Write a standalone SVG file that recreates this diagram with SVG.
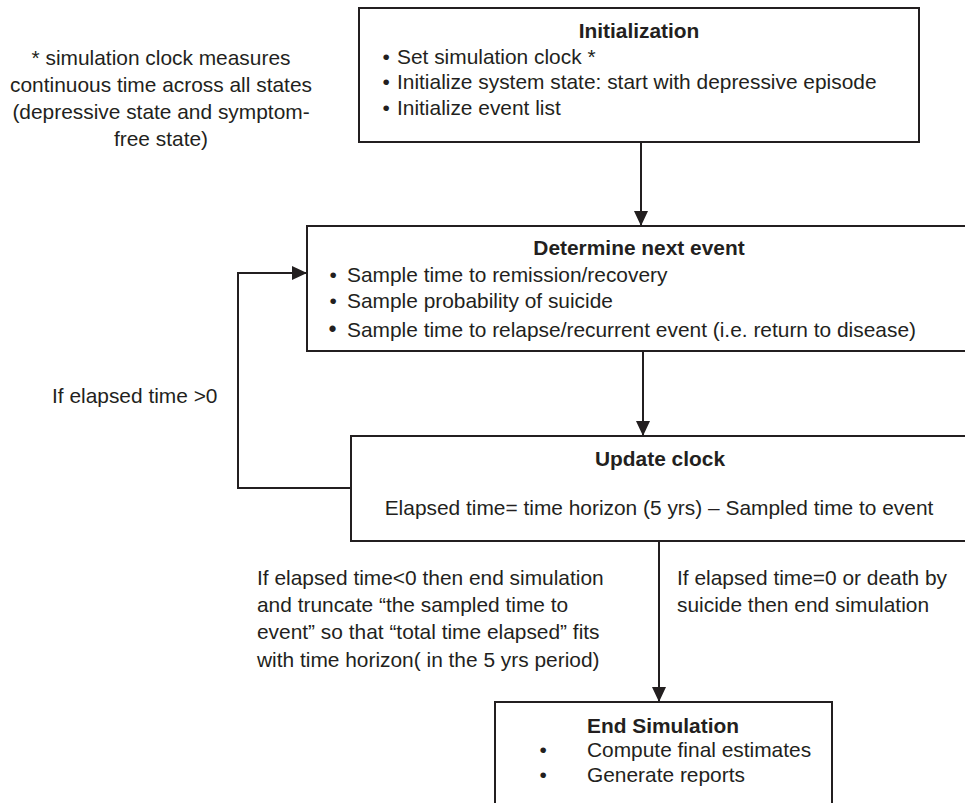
<svg xmlns="http://www.w3.org/2000/svg" width="965" height="803" viewBox="0 0 965 803">
<style>
text{font-family:"Liberation Sans",Arial,sans-serif;font-size:20.9px;fill:#231f20}
.t{font-weight:bold;text-anchor:middle}
.c{text-anchor:middle}
.box{fill:#fff;stroke:#231f20;stroke-width:2}
.ln{fill:none;stroke:#231f20;stroke-width:2}
</style>
<defs>
<marker id="ah" markerUnits="userSpaceOnUse" markerWidth="16" markerHeight="14" refX="15" refY="7" orient="auto">
<path d="M0,0 L15,7 L0,14 z" fill="#231f20"/>
</marker>
</defs>
<rect width="965" height="803" fill="#fff"/>
<g id="note">
<text class="c" x="161" y="65">* simulation clock measures</text>
<text class="c" x="161" y="92">continuous time across all states</text>
<text class="c" x="161" y="119">(depressive state and symptom-</text>
<text class="c" x="161" y="146">free state)</text>
</g>
<g id="connectors">
<line class="ln" x1="641" y1="142" x2="641" y2="226" marker-end="url(#ah)"/>
<line class="ln" x1="643" y1="351" x2="643" y2="436" marker-end="url(#ah)"/>
<line class="ln" x1="659" y1="541" x2="659" y2="702" marker-end="url(#ah)"/>
<polyline class="ln" points="351,488 238,488 238,273 307,273" marker-end="url(#ah)"/>
<text x="52" y="403">If elapsed time &gt;0</text>
<text x="257" y="585">If elapsed time&lt;0 then end simulation</text>
<text x="257" y="612">and truncate “the sampled time to</text>
<text x="257" y="639">event” so that “total time elapsed” fits</text>
<text x="257" y="667">with time horizon( in the 5 yrs period)</text>
<text x="677" y="585">If elapsed time=0 or death by</text>
<text x="677" y="612">suicide then end simulation</text>
</g>
<g id="init">
<rect class="box" x="359" y="8" width="560" height="134"/>
<text class="t" x="639" y="38">Initialization</text>
<text x="382.5" y="64">•</text><text x="397" y="64">Set simulation clock *</text>
<text x="382.5" y="89">•</text><text x="397" y="89">Initialize system state: start with depressive episode</text>
<text x="382.5" y="115">•</text><text x="397" y="115">Initialize event list</text>
</g>
<g id="determine">
<rect class="box" x="307" y="226" width="670" height="125"/>
<text class="t" x="639" y="255">Determine next event</text>
<text x="329.5" y="282">•</text><text x="347" y="282">Sample time to remission/recovery</text>
<text x="329.5" y="308">•</text><text x="347" y="308">Sample probability of suicide</text>
<text x="328.5" y="337" style="font-size:23px">•</text><text x="347" y="337">Sample time to relapse/recurrent event (i.e. return to disease)</text>
</g>
<g id="update">
<rect class="box" x="351" y="436" width="626" height="105"/>
<text class="t" x="660" y="466">Update clock</text>
<text class="c" x="659" y="515">Elapsed time= time horizon (5 yrs) – Sampled time to event</text>
</g>
<g id="end">
<rect class="box" x="495" y="702" width="337" height="120"/>
<text class="t" x="663" y="733">End Simulation</text>
<text x="539.5" y="757">•</text><text x="587" y="757">Compute final estimates</text>
<text x="539.5" y="782">•</text><text x="587" y="782">Generate reports</text>
</g>
</svg>
